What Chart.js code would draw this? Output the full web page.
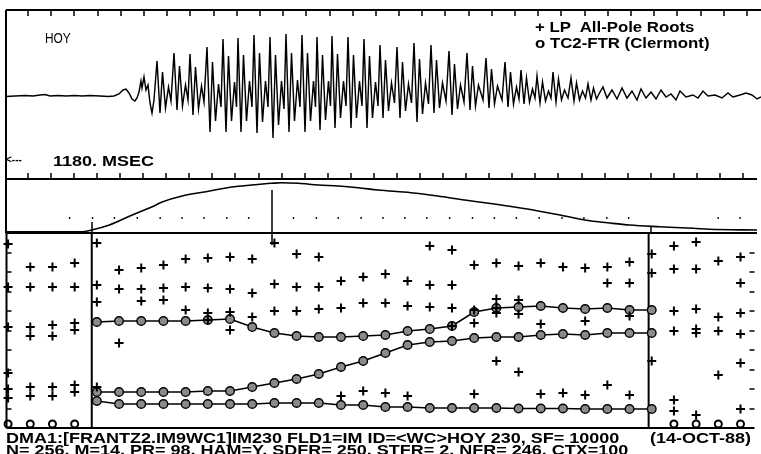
<!DOCTYPE html>
<html><head><meta charset="utf-8">
<script src="https://cdn.jsdelivr.net/npm/chart.js@4.4.0/dist/chart.umd.min.js"></script>
<style>
html,body{margin:0;padding:0;background:#fff;}
#wrap{position:relative;width:761px;height:454px;overflow:hidden;background:#fff;}
canvas{position:absolute;left:0;top:0;}
.t{position:absolute;font-family:"Liberation Sans",Arial,sans-serif;font-weight:bold;color:#000;white-space:nowrap;transform-origin:0 0;line-height:1;}
</style></head><body>
<div id="wrap">
<canvas id="c1" width="761" height="454"></canvas>
<canvas id="c2" width="761" height="454"></canvas>
<canvas id="c3" width="761" height="454"></canvas>
<div class="t" style="left:45px;top:31px;font-size:14px;font-weight:normal;transform:scaleX(0.85);">HOY</div>
<div class="t" style="left:535px;top:20px;font-size:14px;transform:scaleX(1.2);">+ LP&nbsp; All-Pole Roots</div>
<div class="t" style="left:535px;top:36px;font-size:14px;transform:scaleX(1.2);">o TC2-FTR (Clermont)</div>
<div class="t" style="left:6px;top:155px;font-size:10px;">&lt;---</div>
<div class="t" style="left:53px;top:153px;font-size:15px;transform:scaleX(1.2);">1180. MSEC</div>
<div class="t" style="left:6px;top:430px;font-size:15px;transform:scaleX(1.2);">DMA1:[FRANTZ2.IM9WC1]IM230 FLD1=IM ID=&lt;WC&gt;HOY 230, SF= 10000</div>
<div class="t" style="left:650px;top:430px;font-size:15px;transform:scaleX(1.2);">(14-OCT-88)</div>
<div class="t" style="left:6px;top:442px;font-size:15px;transform:scaleX(1.2);">N= 256, M=14, PR= 98, HAM=Y, SDFR= 250, STFR= 2, NFR= 246, CTX=100</div>
</div>
<script>
// ---------- top panel: speech waveform (time index, amplitude) ----------
const waveX = [6,15,25,33,40,45,50,58,66,75,82,90,100,108,114,119,123,126,129,132,135,137,139,141,142,144,146,148,150,152,154,
157,160,162.5,165.5,168.5,171,
174,177,179.5,182.5,185.5,188,
190,193,195.5,198.5,201.5,204,
207,210,212.5,215.5,218.5,221,
223,226,228.5,231.5,234.5,236.5,
238,241,243.5,246.5,249.5,252,
254,257,259.5,262.5,265.5,268,
270,273,275.5,278.5,281.5,284,
286,289,291.5,294.5,297.5,300,
302,305,307.5,310.5,313.5,315.5,
317,320,322.5,325.5,328.5,330.5,
332,335,337.5,340.5,343.5,346,
348,351,353.5,356.5,359.5,362,
364,367,369.5,372.5,375.5,378,
380,383,385.5,388.5,391.5,394.5,
397,400,402.5,405.5,408.5,411.5,
414,417,419.5,422.5,425.5,428.5,
431,434,436.5,439.5,442.5,446,
449,452,454.5,457.5,460.5,464,
467,470,472.5,475.5,478.5,483,
486,489,491.5,494.5,497.5,502,
505,508,510.5,513.5,516.5,519,
521,524,526.5,529.5,532.5,535,
537,540,542.5,545.5,548.5,551,
553,556,558.5,561.5,564.5,568,
571,574,576.5,579.5,582.5,585.5,
588,591,593.5,596.5,599.5,
603,607,612,617,622,627,632,637,641,646,651,656,661,666,671,676,680,686,693,698,703,708,715,722,728,733,740,746,752,757,761];
const waveY = [-0.5,0,0.5,0,1,1.5,0,0.5,0,0.5,0,0.5,0,-0.5,0,2,6,7,3,-3,-5,-2,4,15,8,19,6,11,-7,-17,-4,
35,-17,24,-12,9,-5,
43,-14,30,-10,11,-4,
42,-19,29,-13,10,-6,
49,-36,34,-25,12,-11,
57,-36,40,-25,14,-11,
58,-36,41,-25,15,-11,
61,-37,43,-26,15,-11,
59,-42,41,-29,15,-13,
62,-36,43,-25,16,-11,
61,-36,43,-25,15,-11,
59,-34,41,-24,15,-10,
60,-32,42,-22,15,-10,
59,-32,41,-22,15,-10,
57,-32,40,-22,14,-10,
51,-22,36,-15,13,-7,
49,-22,34,-15,12,-7,
53,-26,37,-18,13,-8,
51,-17,36,-12,13,-5,
45,-19,32,-13,11,-6,
43,-14,30,-10,11,-4,
38,-12,27,-8,10,-4,
34,-11,24,-8,9,-3,
26,-8,18,-6,7,-2,
20,-7,14,-5,5,-2,
24,-6,17,-4,6,-2,
18,-5,13,-4,5,-2,
12,-4,8,-3,3,
9,-2,6,-3,8,-2,5,-4,7,-2,4,-3,6,-1,2,-4,5,-1,1,-2,5,0,1,-2,3,-1,1,3,1,-3,-1];
const timeTicks = [28,51.2,74.4,97.6,120.8,143.9,167.1,190.3,213.5,236.7,259.9,283.1,306.3,329.5,352.7,375.9,399.0,422.2,445.4,468.6,491.8,515.0,538.2,561.4,584.6,607.8,631.0,654.1,677.3,700.5,723.7,746.9];

// ---------- middle panel: energy envelope ----------
const envX = [6,82,92,110,133,153,163,183,207,233,253,273,283,300,320,340,360,380,413,440,467,497,530,563,593,613,633,663,697,713,761];
const envY = [1.3,1.3,3,8,18,26.3,31,37,41.3,46,48,49.7,50.3,49.7,48,47,45.3,43,40.3,37,33,29,24,18,12.3,10,8,6.3,4.7,3.7,3];
const guideDotX = [70,93,115,138,161,183,205,228,250,295,318,340,363,385,407,429,452,475,497,519,542,565,587,610,632,722,744];
const guideDotLevel = 15;
const midCursor = {t:273, from:43, to:-12};
const sideCursors = [{t:92, from:11}, {t:654, from:7}];

// ---------- bottom panel: formant frequencies (Hz) per analysis frame ----------
const lpRoots = [
 [4718,3615,2590,1410,1000,769],
 [4128,3615,2590,2359,1051,821],
 [4128,3615,2641,2359,1051,821],
 [4231,3615,2692,2513,1103,923],
 [4744,3667,3231,1051],
 [4051,3564,2179],
 [4103,3564,3256],
 [4179,3590,3282],
 [4333,3615,3026],
 [4359,3590,2949,2769],
 [4385,3564,2974,2513],
 [4333,3462,2846],
 [4744,3692,3000],
 [4462,3615,3000],
 [4385,3615,3051],
 [3769,3077,821],
 [3872,3205,949],
 [3949,3205,897],
 [3769,3128,821],
 [4667,3667,3103],
 [4564,3667,3077,2615],
 [4179,3026,2692,872],
 [4231,3308,3077,2949,1718],
 [4154,3282,2923,1436],
 [4231,2667,872],
 [4128,897],
 [4103,2744,846],
 [4128,3718,1103],
 [4256,3718,2872,846],
 [4462,3974,1718],
 [4667,4077,3000,2487,718,436],
 [4769,4077,3051,2538,2436,333],
 [4282,2846,2487,1359],
 [4385,3718,2949,2410,1667,487]
];
const tcFrames = [4,5,6,7,8,9,10,11,12,13,14,15,16,17,18,19,20,21,22,23,24,25,26,27,28,29];
const tcF3 = [2718,2744,2744,2744,2744,2769,2795,2590,2436,2359,2333,2333,2359,2385,2487,2538,2615,2974,3077,3103,3128,3077,3051,3077,3026,3026];
const tcF2 = [923,923,923,923,923,949,949,1051,1154,1256,1385,1564,1718,1923,2128,2205,2231,2308,2333,2333,2385,2410,2385,2436,2436,2436];
const tcF1 = [692,615,615,615,615,615,615,615,641,641,641,590,590,538,538,513,513,513,513,500,500,500,487,487,487,487];
const tcOutsideFrames = [0,1,2,3,30,31,32,33];
const tcOutsideHz = [103,103,103,103,103,103,103,103];
const windowFrames = [3.77, 28.86];
const freqStep = 500;

const base = {responsive:false, animation:false, events:[], plugins:{legend:{display:false}, tooltip:{enabled:false}}};
const INK = '#000';

// chart 1 ---------------------------------------------------------------
new Chart(document.getElementById('c1'), {
  type:'line',
  data:{datasets:[{data: waveX.map((x,i)=>({x:x, y:waveY[i]})), borderColor:INK, borderWidth:1.45, pointRadius:0, tension:0}]},
  options:Object.assign({}, base, {
    layout:{padding:{left:6,right:0,top:10,bottom:275}},
    scales:{x:{type:'linear',min:6,max:761,display:false}, y:{min:-83,max:86,display:false}}
  }),
  plugins:[{id:'frame1', afterDraw(chart){
    const {ctx, chartArea:a, scales:{x}} = chart;
    ctx.save(); ctx.strokeStyle=INK; ctx.lineWidth=2;
    ctx.beginPath(); ctx.moveTo(a.left,a.top); ctx.lineTo(a.right,a.top);
    ctx.moveTo(a.left,a.top); ctx.lineTo(a.left,a.bottom); ctx.stroke();
    ctx.lineWidth=1.5; ctx.beginPath();
    timeTicks.forEach(t=>{const p=Math.round(x.getPixelForValue(t)); ctx.moveTo(p,a.top); ctx.lineTo(p,a.top+6);});
    ctx.stroke(); ctx.restore();
  }}]
});

// chart 2 ---------------------------------------------------------------
new Chart(document.getElementById('c2'), {
  type:'line',
  data:{datasets:[
    {data: envX.map((x,i)=>({x:x,y:envY[i]})), borderColor:INK, borderWidth:1.6, pointRadius:0, cubicInterpolationMode:'monotone'},
    {data: guideDotX.map(x=>({x:x,y:guideDotLevel})), showLine:false, pointRadius:0.9, pointBackgroundColor:INK, pointBorderWidth:0}
  ]},
  options:Object.assign({}, base, {
    layout:{padding:{left:6,right:0,top:179,bottom:221}},
    scales:{x:{type:'linear',min:6,max:761,display:false}, y:{min:0,max:54,display:false}}
  }),
  plugins:[{id:'frame2', afterDraw(chart){
    const {ctx, chartArea:a, scales:{x,y}} = chart;
    ctx.save(); ctx.strokeStyle=INK; ctx.lineWidth=2;
    ctx.beginPath(); ctx.moveTo(a.left,a.top); ctx.lineTo(a.right,a.top);
    ctx.moveTo(a.left,a.bottom); ctx.lineTo(a.right,a.bottom);
    ctx.moveTo(a.left,a.top); ctx.lineTo(a.left,a.bottom); ctx.stroke();
    ctx.lineWidth=1.5; ctx.beginPath();
    timeTicks.forEach(t=>{const p=Math.round(x.getPixelForValue(t)); ctx.moveTo(p,a.top); ctx.lineTo(p,a.top-6);});
    const mp=Math.round(x.getPixelForValue(midCursor.t));
    ctx.moveTo(mp,y.getPixelForValue(midCursor.from)); ctx.lineTo(mp,y.getPixelForValue(midCursor.to));
    sideCursors.forEach(c=>{const p=Math.round(x.getPixelForValue(c.t)); ctx.moveTo(p,y.getPixelForValue(c.from)); ctx.lineTo(p,a.bottom);});
    ctx.stroke(); ctx.restore();
  }}]
});

// chart 3 ---------------------------------------------------------------
const lpPoints = [];
lpRoots.forEach((arr,i)=>arr.forEach(v=>lpPoints.push({x:i,y:v})));
const track = arr => tcFrames.map((f,i)=>({x:f,y:arr[i]}));
const trackStyle = {showLine:true, borderColor:INK, borderWidth:1.6, pointRadius:4.3, pointBackgroundColor:'#8a8a8a', pointBorderColor:INK, pointBorderWidth:1.4, clip:false};
new Chart(document.getElementById('c3'), {
  type:'scatter',
  data:{datasets:[
    {data:lpPoints, pointStyle:'cross', pointRadius:4.5, borderColor:INK, pointBorderWidth:2, borderWidth:2, clip:false},
    Object.assign({data:track(tcF3)}, trackStyle),
    Object.assign({data:track(tcF2)}, trackStyle),
    Object.assign({data:track(tcF1)}, trackStyle),
    {data:tcOutsideFrames.map((f,i)=>({x:f,y:tcOutsideHz[i]})), pointRadius:3.5, pointBackgroundColor:'#fff', pointBorderColor:INK, pointBorderWidth:2, clip:false},
    {data:[{x:windowFrames[0],y:0},{x:windowFrames[0],y:5000}], showLine:true, borderColor:INK, borderWidth:2, pointRadius:0},
    {data:[{x:windowFrames[1],y:0},{x:windowFrames[1],y:5000}], showLine:true, borderColor:INK, borderWidth:2, pointRadius:0}
  ]},
  options:Object.assign({}, base, {
    layout:{padding:{left:6,right:0,top:233,bottom:26}},
    scales:{x:{type:'linear',min:-0.071,max:33.63,display:false}, y:{min:0,max:5000,display:false,ticks:{stepSize:freqStep}}}
  }),
  plugins:[{id:'frame3', afterDraw(chart){
    const {ctx, chartArea:a, scales:{y}} = chart;
    ctx.save(); ctx.strokeStyle=INK; ctx.lineWidth=2;
    ctx.beginPath(); ctx.moveTo(a.left,a.top); ctx.lineTo(a.left,a.bottom);
    ctx.moveTo(a.left,a.bottom); ctx.lineTo(a.right,a.bottom); ctx.stroke();
    let vals = (y.ticks||[]).map(t=>t.value);
    if(!vals.length){ for(let v=y.min; v<=y.max; v+=freqStep) vals.push(v); }
    ctx.lineWidth=1.5; ctx.beginPath();
    vals.forEach(v=>{ if(v<=y.min||v>=y.max) return; const p=Math.round(y.getPixelForValue(v));
      ctx.moveTo(a.left,p); ctx.lineTo(a.left+5,p); ctx.moveTo(a.right-5,p); ctx.lineTo(a.right,p);});
    ctx.stroke(); ctx.restore();
  }}]
});
</script>
</body></html>
